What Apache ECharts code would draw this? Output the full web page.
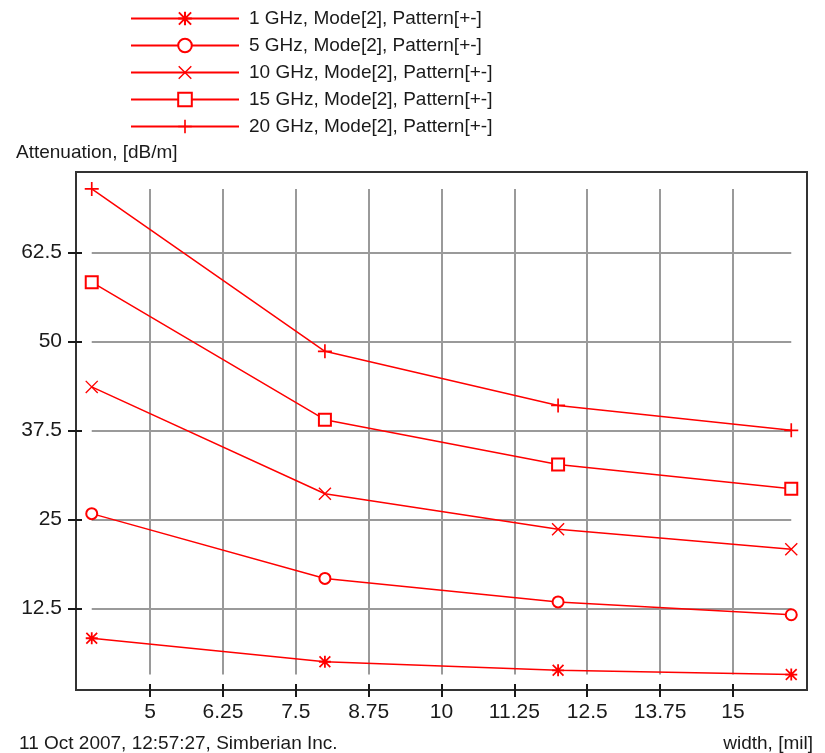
<!DOCTYPE html>
<html>
<head>
<meta charset="utf-8">
<script src="https://cdn.jsdelivr.net/npm/echarts@6/dist/echarts.min.js"></script>
<style>
html, body { margin: 0; padding: 0; background: #fff; }
#chart { width: 825px; height: 753px; }
</style>
</head>
<body>
<div id="chart"></div>
<script>
/* widths and attenuation values */
var widths = [4, 8, 12, 16];
var seriesNames = [
    '1 GHz, Mode[2], Pattern[+-]',
    '5 GHz, Mode[2], Pattern[+-]',
    '10 GHz, Mode[2], Pattern[+-]',
    '15 GHz, Mode[2], Pattern[+-]',
    '20 GHz, Mode[2], Pattern[+-]'
];
var att1 = [8.3, 5.0, 3.8, 3.2];
var att5 = [25.8, 16.7, 13.4, 11.6];
var att10 = [43.6, 28.6, 23.6, 20.8];
var att15 = [58.3, 39.0, 32.7, 29.3];
var att20 = [71.4, 48.6, 41.0, 37.5];
var xTicks = [5, 6.25, 7.5, 8.75, 10, 11.25, 12.5, 13.75, 15];
var yTicks = [12.5, 25, 37.5, 50, 62.5];

var symAsterisk = 'path://M8.5,0h3v20h-3zM0,8.5h20v3h-20zM2,0L20,18L18,20L0,2zM18,0L20,2L2,20L0,18z';
var symCross = 'path://M1.5,0L20,18.5L18.5,20L0,1.5zM18.5,0L20,1.5L1.5,20L0,18.5z';
var symPlus = 'path://M8.8,0h2.4v20h-2.4zM0,8.8h20v2.4h-20z';

function pairs(ys) {
    return widths.map(function (w, i) { return [w, ys[i]]; });
}

function lineChart() {
    var chart = echarts.init(document.getElementById('chart'));
    var red = '#ff0000';
    var font = 'Liberation Sans';
    var all = att1.concat(att5, att10, att15, att20);
    var yLo = Math.min.apply(null, all), yHi = Math.max.apply(null, all);
    var xLo = widths[0], xHi = widths[widths.length - 1];

    // grid lines only span the data box, like in the original
    var gridLines = [];
    xTicks.forEach(function (v) {
        gridLines.push([{ coord: [v, yLo] }, { coord: [v, yHi] }]);
    });
    yTicks.forEach(function (v) {
        gridLines.push([{ coord: [xLo, v] }, { coord: [xHi, v] }]);
    });

    function mk(name, data, symbol, size, empty) {
        return {
            name: name,
            type: 'line',
            data: pairs(data),
            symbol: symbol,
            symbolSize: size,
            showSymbol: true,
            lineStyle: { color: red, width: 1.5 },
            itemStyle: { color: red, borderColor: red, borderWidth: empty ? 1.6 : 0 },
            emphasis: { disabled: true },
            z: 3
        };
    }

    var series = [
        mk(seriesNames[0], att1, symAsterisk, 12, false),
        mk(seriesNames[1], att5, 'emptyCircle', 11, true),
        mk(seriesNames[2], att10, symCross, 13, false),
        mk(seriesNames[3], att15, 'emptyRect', 12, true),
        mk(seriesNames[4], att20, symPlus, 14, false)
    ];
    series[0].markLine = {
        silent: true,
        z: 1,
        animation: false,
        symbol: ['none', 'none'],
        label: { show: false },
        lineStyle: { color: '#9a9a9a', width: 2, type: 'solid' },
        emphasis: { disabled: true },
        data: gridLines
    };

    var option = {
        animation: false,
        backgroundColor: '#fff',
        title: [{
            text: 'Attenuation, [dB/m]',
            left: 16, top: 143, padding: 0,
            textStyle: { fontFamily: font, fontSize: 19, fontWeight: 'normal', color: '#1a1a1a' }
        }, {
            text: '11 Oct 2007, 12:57:27, Simberian Inc.',
            left: 19, top: 734, padding: 0,
            textStyle: { fontFamily: font, fontSize: 19, fontWeight: 'normal', color: '#1a1a1a' }
        }, {
            text: 'width, [mil]',
            right: 12, top: 734, padding: 0,
            textStyle: { fontFamily: font, fontSize: 19, fontWeight: 'normal', color: '#1a1a1a' }
        }],
        legend: {
            orient: 'vertical',
            left: 125,
            top: 4,
            itemWidth: 108,
            itemHeight: 17,
            itemGap: 8,
            data: seriesNames,
            selectedMode: false,
            textStyle: { fontFamily: font, fontSize: 19, color: '#1a1a1a', padding: [0, 0, 0, 5] }
        },
        grid: {
            left: 76, right: 18, top: 172, bottom: 63,
            show: true,
            borderColor: '#333',
            borderWidth: 2
        },
        xAxis: [{
            type: 'value',
            min: 3.73, max: 16.27,
            position: 'bottom',
            axisLine: { lineStyle: { color: '#333', width: 2 } },
            axisTick: { customValues: xTicks, length: 7, lineStyle: { color: '#1a1a1a', width: 2 } },
            axisLabel: { customValues: xTicks, margin: 12, fontFamily: font, fontSize: 21, color: '#1a1a1a' },
            splitLine: { show: false }
        }, {
            type: 'value',
            min: 3.73, max: 16.27,
            position: 'bottom',
            axisLine: { show: false },
            axisTick: { customValues: xTicks, inside: true, length: 6, lineStyle: { color: '#1a1a1a', width: 2 } },
            axisLabel: { show: false },
            splitLine: { show: false }
        }],
        yAxis: [{
            type: 'value',
            min: 1.03, max: 73.78,
            position: 'left',
            axisLine: { show: true, lineStyle: { color: '#333', width: 2 } },
            axisTick: { show: true, customValues: yTicks, length: 8, lineStyle: { color: '#1a1a1a', width: 2 } },
            axisLabel: { customValues: yTicks, margin: 14, fontFamily: font, fontSize: 21, color: '#1a1a1a' },
            splitLine: { show: false }
        }, {
            type: 'value',
            min: 1.03, max: 73.78,
            position: 'left',
            axisLine: { show: false },
            axisTick: { show: true, customValues: yTicks, inside: true, length: 6, lineStyle: { color: '#1a1a1a', width: 2 } },
            axisLabel: { show: false },
            splitLine: { show: false }
        }],
        series: series
    };
    chart.setOption(option);
}
lineChart();
</script>
</body>
</html>
